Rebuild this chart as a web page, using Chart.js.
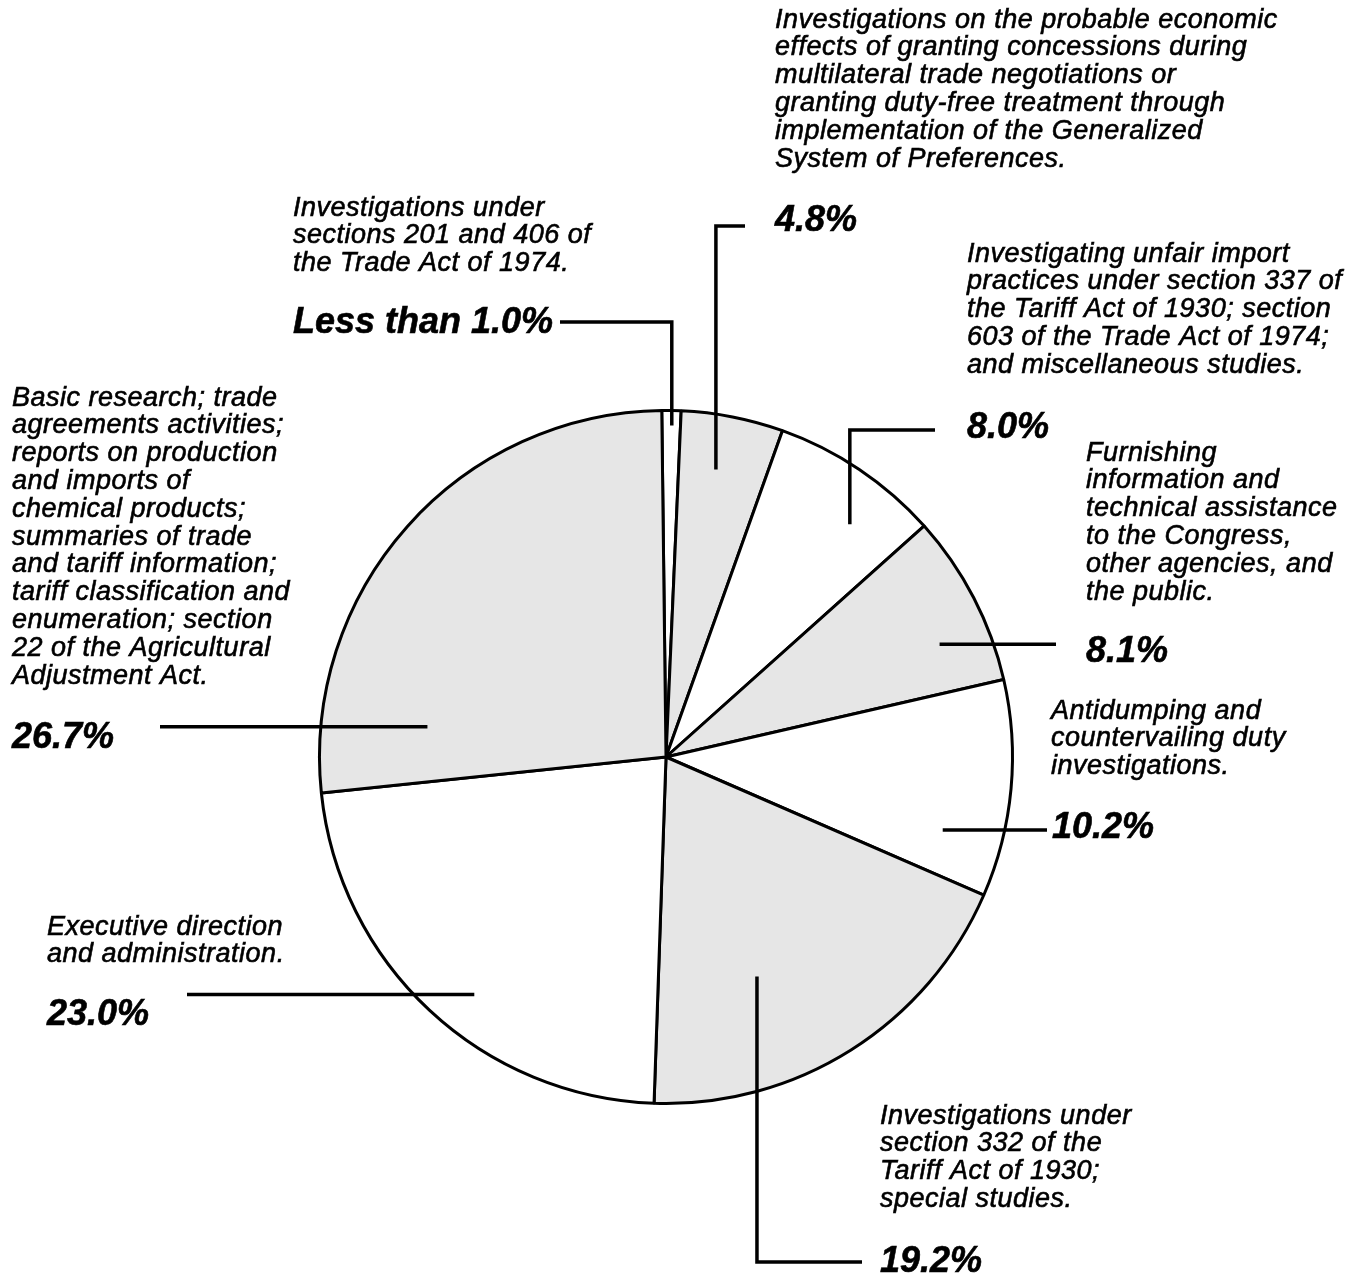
<!DOCTYPE html>
<html>
<head>
<meta charset="utf-8">
<script src="https://cdn.jsdelivr.net/npm/chart.js@4.4.1/dist/chart.umd.min.js"></script>
<style>
  html, body { margin: 0; padding: 0; background: #fff; overflow: hidden; }
  #wrap { width: 1353px; height: 1276px; position: relative; }
</style>
</head>
<body>
<div id="wrap"><canvas id="pieChart"></canvas></div>
<script>
// slices, clockwise from 12 o'clock
const categories = [
    ["Investigations under", "sections 201 and 406 of", "the Trade Act of 1974."],
    ["Investigations on the probable economic", "effects of granting concessions during", "multilateral trade negotiations or", "granting duty-free treatment through", "implementation of the Generalized", "System of Preferences."],
    ["Investigating unfair import", "practices under section 337 of", "the Tariff Act of 1930; section", "603 of the Trade Act of 1974;", "and miscellaneous studies."],
    ["Furnishing", "information and", "technical assistance", "to the Congress,", "other agencies, and", "the public."],
    ["Antidumping and", "countervailing duty", "investigations."],
    ["Investigations under", "section 332 of the", "Tariff Act of 1930;", "special studies."],
    ["Executive direction", "and administration."],
    ["Basic research; trade", "agreements activities;", "reports on production", "and imports of", "chemical products;", "summaries of trade", "and tariff information;", "tariff classification and", "enumeration; section", "22 of the Agricultural", "Adjustment Act."]
];
const shares = [0.9, 4.8, 8.0, 8.1, 10.2, 19.2, 23.0, 26.7];
const shareLabels = ["Less than 1.0%", "4.8%", "8.0%", "8.1%", "10.2%", "19.2%", "23.0%", "26.7%"];

const SHADE = '#e6e6e6';
const fills = ['#ffffff', SHADE, '#ffffff', SHADE, '#ffffff', SHADE, '#ffffff', SHADE];

// callout layout: anchor = [degrees clockwise from top, fraction of radius],
// path = elbow segments ('v' to y / 'h' to x), text = description top line, pct = percent label
const lineGap = 27.8;
const labelLayout = [
    { anchor: [1.0, 0.957],  path: [['v', 322], ['h', 560]],  text: [293, 208],  pct: [293, 323] },
    { anchor: [9.85, 0.842], path: [['v', 226], ['h', 745]],  text: [775, 20],   pct: [775, 221] },
    { anchor: [38.3, 0.856], path: [['v', 430], ['h', 935]],  text: [967, 254],  pct: [967, 428] },
    { anchor: [67.6, 0.854], path: [['h', 1056]],             text: [1086, 453], pct: [1086, 652] },
    { anchor: [104.8, 0.826], path: [['h', 1047]],            text: [1051, 711], pct: [1052, 828] },
    { anchor: [157.5, 0.686], path: [['v', 1262], ['h', 862]], text: [880, 1116], pct: [880, 1262] },
    { anchor: [218.9, 0.881], path: [['h', 187]],             text: [47, 927],   pct: [47, 1015] },
    { anchor: [277.2, 0.694], path: [['h', 160]],             text: [12, 398],   pct: [12, 738] }
];

const calloutPlugin = {
    id: 'callouts',
    afterDraw(chart) {
        const ctx = chart.ctx;
        const arcs = chart.getDatasetMeta(0).data;
        ctx.save();
        ctx.strokeStyle = '#000';
        ctx.fillStyle = '#000';
        ctx.lineJoin = 'miter';
        ctx.textAlign = 'left';
        ctx.textBaseline = 'middle';
        arcs.forEach((arc, i) => {
            const lay = labelLayout[i];
            const a = (lay.anchor[0] - 90) * Math.PI / 180;
            let x = arc.x + Math.cos(a) * arc.outerRadius * lay.anchor[1];
            let y = arc.y + Math.sin(a) * arc.outerRadius * lay.anchor[1];
            ctx.lineWidth = 3.5;
            ctx.beginPath();
            ctx.moveTo(x, y);
            lay.path.forEach(([dir, v]) => {
                if (dir === 'v') y = v; else x = v;
                ctx.lineTo(x, y);
            });
            ctx.stroke();

            // scanned print is heavy, so give the glyphs a thin outline too
            ctx.lineWidth = 0.6;
            ctx.font = 'italic 27px "Liberation Sans", Arial, sans-serif';
            if ('letterSpacing' in ctx) ctx.letterSpacing = '0.5px';
            categories[i].forEach((line, k) => {
                const ty = lay.text[1] + k * lineGap;
                ctx.fillText(line, lay.text[0], ty);
                ctx.strokeText(line, lay.text[0], ty);
            });
            ctx.font = 'italic bold 36px "Liberation Sans", Arial, sans-serif';
            if ('letterSpacing' in ctx) ctx.letterSpacing = '0px';
            ctx.fillText(shareLabels[i], lay.pct[0], lay.pct[1]);
            ctx.strokeText(shareLabels[i], lay.pct[0], lay.pct[1]);
        });
        ctx.restore();
    }
};

const pieCtx = document.getElementById("pieChart").getContext('2d');
const pieChart = new Chart(pieCtx, {
    type: 'pie',
    data: {
        labels: shareLabels,
        datasets: [{
            data: shares,
            backgroundColor: fills,
            borderColor: '#000',
            borderWidth: 3
        }]
    },
    options: {
        responsive: true,
        maintainAspectRatio: false,
        animation: false,
        rotation: -0.7,
        layout: {
            padding: { left: 318, right: 339, top: 409, bottom: 171 }
        },
        plugins: {
            legend: { display: false },
            tooltip: { enabled: false }
        }
    },
    plugins: [calloutPlugin]
});
</script>
</body>
</html>
